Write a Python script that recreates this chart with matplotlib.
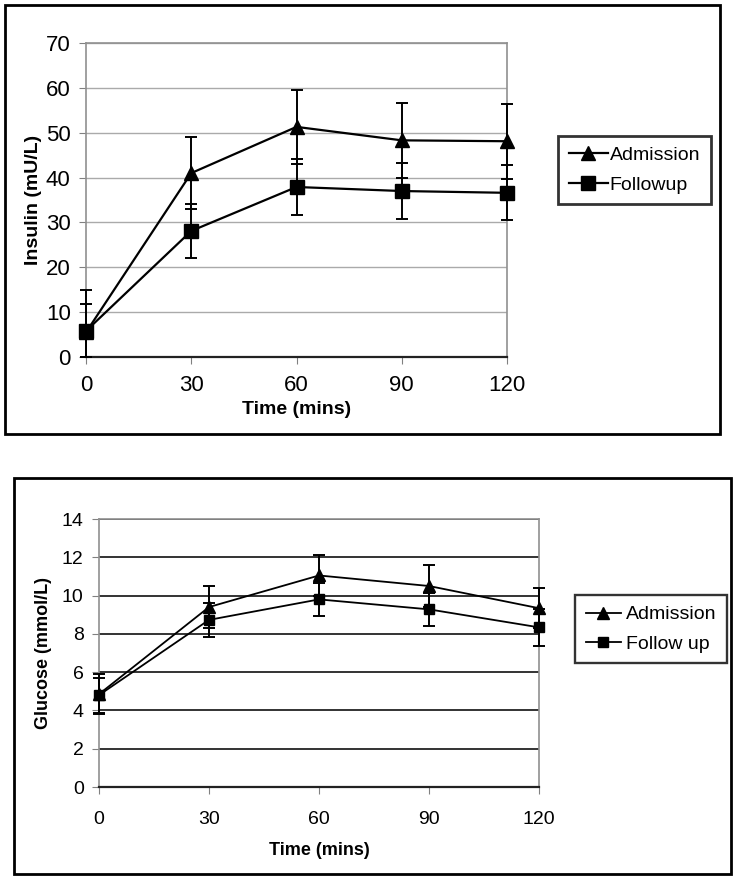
import matplotlib.pyplot as plt
from matplotlib.patches import Rectangle
from matplotlib.lines import Line2D

plt.rcParams['font.family'] = ['Liberation Sans Narrow', 'Liberation Sans', 'DejaVu Sans']

times = [0, 30, 60, 90, 120]

# insulin (mU/L)
ins_adm = [5.5, 41.0, 51.3, 48.3, 48.1]
ins_adm_err = [9.4, 8.0, 8.2, 8.3, 8.4]
ins_fol = [5.8, 28.1, 37.9, 37.0, 36.6]
ins_fol_err = [6.1, 6.1, 6.2, 6.2, 6.1]

# glucose (mmol/L)
glu_adm = [4.85, 9.4, 11.05, 10.5, 9.34]
glu_adm_err = [1.05, 1.1, 1.07, 1.1, 1.06]
glu_fol = [4.8, 8.73, 9.8, 9.28, 8.34]
glu_fol_err = [0.92, 0.9, 0.87, 0.87, 0.96]

W, H = 738, 880
fig = plt.figure(figsize=(W / 100, H / 100), dpi=100)


def fx(px):
    return px / W


def fy(py):
    return 1 - py / H


def panel(box, area, adm, adm_err, fol, fol_err, yticks, ylabel, labels, leg_xy,
          grid_col, grid_lw, lw, ms_tri, ms_sq, tick_fs, lab_fs, leg_fs, ylab_x, xlab_y,
          xpad, leg_hl, leg_tp):
    # outer frame
    x0, y0, x1, y1 = box
    fig.add_artist(Rectangle((fx(x0), fy(y1)), fx(x1) - fx(x0), fy(y0) - fy(y1),
                             transform=fig.transFigure, fill=False, ec='black', lw=2.0))
    l, t, r, b = area
    ax = fig.add_axes([fx(l), fy(b), fx(r) - fx(l), fy(t) - fy(b)])
    ax.set_xlim(0, 120)
    ax.set_ylim(yticks[0], yticks[-1])
    ax.set_xticks(times)
    ax.set_yticks(yticks)
    ax.tick_params(labelsize=tick_fs, length=5, color='#808080', pad=6)
    ax.tick_params(axis='x', pad=xpad)
    for yv in yticks[1:]:
        ax.axhline(yv, color=grid_col, lw=grid_lw, zorder=1)
    for s in ['top', 'right', 'left']:
        ax.spines[s].set_color('#909090')
        ax.spines[s].set_linewidth(1.2)
    ax.spines['bottom'].set_color('#222222')
    ax.spines['bottom'].set_linewidth(1.6)
    # error bars stop at the x axis, like the original
    for vals, errs, mk, ms in [(adm, adm_err, '^', ms_tri), (fol, fol_err, 's', ms_sq)]:
        low = [min(e, v - yticks[0]) for v, e in zip(vals, errs)]
        ax.errorbar(times, vals, yerr=[low, errs], fmt='none', ecolor='black', capsize=4,
                    elinewidth=1.4, capthick=1.4, clip_on=False, zorder=3)
        ax.plot(times, vals, color='black', lw=lw, marker=mk, ms=ms, clip_on=False, zorder=4)
    fig.text(fx((l + r) / 2), fy(xlab_y), 'Time (mins)', ha='center', va='center',
             fontsize=lab_fs, fontweight='bold')
    fig.text(fx(ylab_x), fy((t + b) / 2), ylabel, ha='center', va='center', rotation=90,
             fontsize=lab_fs, fontweight='bold', family=['Liberation Sans', 'DejaVu Sans'])
    handles = [Line2D([], [], color='black', lw=lw, marker='^', ms=ms_tri),
               Line2D([], [], color='black', lw=lw, marker='s', ms=ms_sq)]
    leg = fig.legend(handles, labels, loc='upper left',
                     bbox_to_anchor=(fx(leg_xy[0]), fy(leg_xy[1])), fontsize=leg_fs,
                     frameon=True, fancybox=False, handlelength=leg_hl, handletextpad=leg_tp,
                     borderpad=0.55, labelspacing=0.6, borderaxespad=0)
    leg.get_frame().set_edgecolor('black')
    leg.get_frame().set_linewidth(lw + 0.4)
    return ax


panel((5, 5, 720, 434), (86, 43, 507, 357), ins_adm, ins_adm_err, ins_fol, ins_fol_err,
      [0, 10, 20, 30, 40, 50, 60, 70], 'Insulin (mU/L)', ['Admission', 'Followup'],
      (558, 136), '#aaaaaa', 1.0, 1.6, 10, 10, 16, 14, 14, 33, 410, 8, 2.0, 0.1)

panel((14, 478, 731, 874), (99, 519, 539, 787), glu_adm, glu_adm_err, glu_fol, glu_fol_err,
      [0, 2, 4, 6, 8, 10, 12, 14], 'Glucose (mmol/L)', ['Admission', 'Follow up'],
      (575, 595), '#333333', 1.4, 1.3, 8, 7, 14, 13, 14, 44, 850, 12, 1.8, 0.25)

fig.savefig('out.png', dpi=100)
